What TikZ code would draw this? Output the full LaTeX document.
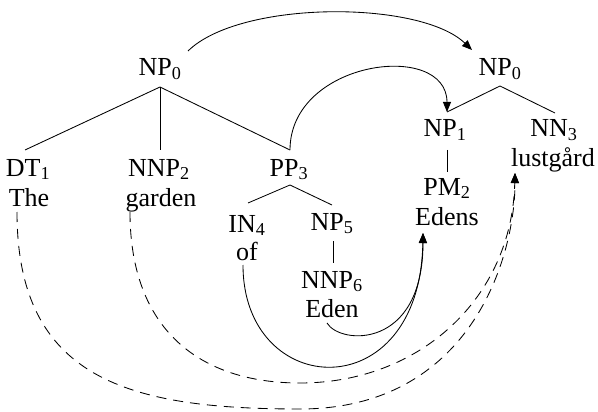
\documentclass[tikz,border=0pt]{standalone}
\usepackage{fontspec}
\setmainfont{Liberation Serif}
\usetikzlibrary{arrows.meta}
\begin{document}
\begin{tikzpicture}[x=1pt,y=-1pt,
  lbl/.style={anchor=base, inner sep=0pt, font=\fontsize{26}{30}\selectfont},
  edge/.style={line width=0.85pt},
  link/.style={line width=0.85pt, -{Triangle[length=10pt,width=8pt]}},
  dlink/.style={link, dash pattern=on 10pt off 7pt}]
\useasboundingbox (0,0) rectangle (598,412);

% source tree
\node[lbl] (np0l)   at (160,76)  {NP\textsubscript{0}};
\node[lbl] (dt)     at (28,176)  {DT\textsubscript{1}};
\node[lbl] (the)    at (29,206)  {The};
\node[lbl] (nnp2)   at (159,176) {NNP\textsubscript{2}};
\node[lbl] (garden) at (161,206) {garden};
\node[lbl] (pp3)    at (289,176) {PP\textsubscript{3}};
\node[lbl] (in4)    at (247,232) {IN\textsubscript{4}};
\node[lbl] (of)     at (247,260) {of};
\node[lbl] (np5)    at (332,230) {NP\textsubscript{5}};
\node[lbl] (nnp6)   at (332,288) {NNP\textsubscript{6}};
\node[lbl] (eden)   at (332,317) {Eden};

% target tree
\node[lbl] (np0r)   at (500,76)  {NP\textsubscript{0}};
\node[lbl] (np1)    at (445,137) {NP\textsubscript{1}};
\node[lbl] (nn3)    at (554,137) {NN\textsubscript{3}};
\node[lbl] (lust)   at (553,167) {lustgård};
\node[lbl] (pm2)    at (447,195) {PM\textsubscript{2}};
\node[lbl] (edens)  at (447,225) {Edens};

% tree edges
\draw[edge] ([yshift=-11pt]np0l.base) -- ([shift={(-3pt,26pt)}]dt.base);
\draw[edge] ([yshift=-11pt]np0l.base) -- ([shift={(1pt,26pt)}]nnp2.base);
\draw[edge] ([yshift=-11pt]np0l.base) -- ([shift={(1pt,26pt)}]pp3.base);
\draw[edge] ([shift={(1pt,-9pt)}]pp3.base) -- ([shift={(1pt,29pt)}]in4.base);
\draw[edge] ([shift={(1pt,-9pt)}]pp3.base) -- ([yshift=25pt]np5.base);
\draw[edge] ([shift={(1pt,-11pt)}]np5.base) -- ([shift={(1pt,25pt)}]nnp6.base);
\draw[edge] ([yshift=-10pt]np0r.base) -- ([shift={(2pt,25pt)}]np1.base);
\draw[edge] ([yshift=-10pt]np0r.base) -- ([shift={(1pt,24pt)}]nn3.base);
\draw[edge] ([shift={(2pt,-13pt)}]np1.base) -- ([yshift=23pt]pm2.base);

% alignment links
\draw[link] ([shift={(28pt,25pt)}]np0l.base)
  .. controls +(52,-51) and +(-52,-50) .. ([shift={(-28pt,26pt)}]np0r.base);
\draw[link] ([shift={(1pt,26pt)}]pp3.base)
  .. controls +(0,-90) and +(0,-72) .. ([shift={(2pt,25pt)}]np1.base);
\draw[link] ([shift={(-4pt,-5pt)}]of.base)
  .. controls +(0,135) and +(-3,177) .. ([shift={(-24pt,-8pt)}]edens.base);
\draw[link] ([shift={(-5pt,-6pt)}]eden.base)
  .. controls +(13,22) and +(0,117) .. ([shift={(-24pt,-8pt)}]edens.base);

% dashed links to lustgård
\coordinate (bend1) at (300,409);
\coordinate (bend2) at (300,383);
\draw[dlink] ([shift={(-12pt,-6pt)}]the.base)
  .. controls +(0,168) and +(-170,0) .. (bend1)
  .. controls +(170,0) and +(0,85) .. ([shift={(-38pt,-6pt)}]lust.base);
\draw[dlink] ([shift={(-31pt,-6pt)}]garden.base)
  .. controls +(0,118) and +(-100,0) .. (bend2)
  .. controls +(120,0) and +(-3,125) .. ([shift={(-38pt,-6pt)}]lust.base);
\end{tikzpicture}
\end{document}
